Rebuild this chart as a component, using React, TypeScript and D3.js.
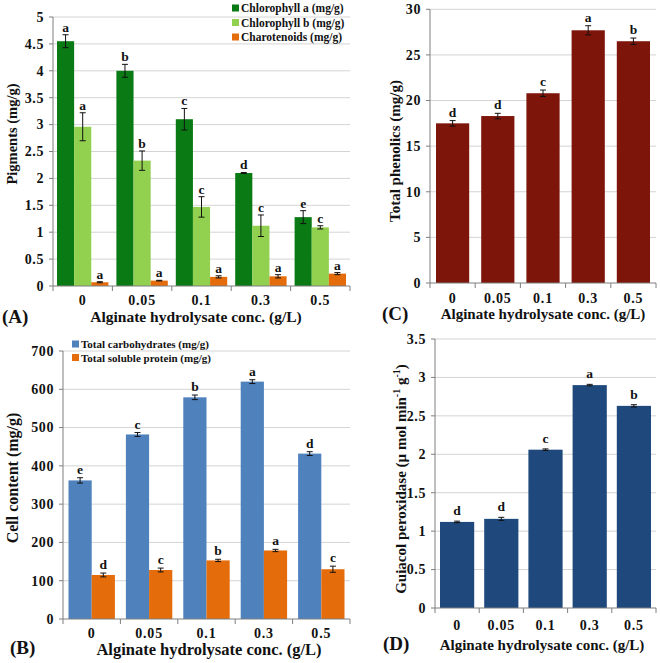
import React from "react";
import * as d3 from "d3";

const concs = ["0", "0.05", "0.1", "0.3", "0.5"];

// Panel A
const chlA = [4.55, 4.0, 3.1, 2.1, 1.28];
const chlAErr = [0.12, 0.12, 0.2, 0.01, 0.12];
const chlALet = ["a", "b", "c", "d", "e"];
const chlB = [2.96, 2.33, 1.47, 1.12, 1.09];
const chlBErr = [0.26, 0.18, 0.19, 0.2, 0.03];
const chlBLet = ["a", "b", "c", "c", "c"];
const car = [0.07, 0.1, 0.17, 0.18, 0.23];
const carErr = [0.01, 0.006, 0.02, 0.03, 0.02];
const carLet = ["a", "a", "a", "a", "a"];

// Panel B
const carb = [362, 482, 579, 620, 432];
const carbErr = [7, 5, 6, 5, 5];
const carbLet = ["e", "c", "b", "a", "d"];
const prot = [115, 128, 153, 179, 130];
const protErr = [5, 5, 3, 3, 8];
const protLet = ["d", "c", "b", "a", "c"];

// Panel C
const phen = [17.5, 18.3, 20.8, 27.7, 26.5];
const phenErr = [0.3, 0.3, 0.35, 0.5, 0.35];
const phenLet = ["d", "d", "c", "a", "b"];

// Panel D
const gpx = [1.12, 1.16, 2.06, 2.9, 2.63];
const gpxErr = [0.01, 0.02, 0.01, 0.01, 0.015];
const gpxLet = ["d", "d", "c", "a", "b"];

const FONT = "Liberation Serif, Times New Roman, DejaVu Serif, serif";

type Series = { name?: string; values: number[]; errs: number[]; letters: string[]; color: string };

type PanelProps = {
  x0: number; x1: number; yTop: number; yBot: number;
  yMax: number; yStep: number; pad: number; letGap: number;
  series: Series[];
  xLabelY: number;
  yLabel: React.ReactNode; yLabelX: number; yLabelY: number; yLabelSize: number;
  title: string; titleX: number; titleY: number; titleSize: number;
  tag: string; tagX: number; tagY: number;
  legend?: { x: number; y: number; dy: number; size: number };
};

function Panel(p: PanelProps) {
  const y = d3.scaleLinear().domain([0, p.yMax]).range([p.yBot, p.yTop]);
  const xb = d3.scaleBand<string>().domain(concs).range([p.x0, p.x1]).padding(0);
  const inner = d3
    .scaleBand<number>()
    .domain(p.series.map((_, i) => i))
    .range([p.pad, xb.bandwidth() - p.pad])
    .padding(0);
  const ticks = d3.range(0, p.yMax + p.yStep / 2, p.yStep);
  const fmt = (v: number) => d3.format("~g")(+v.toFixed(3));
  return (
    <g style={{ fontFamily: FONT, fontWeight: "bold" }}>
      {ticks.map((t) =>
        t > 0 ? (
          <line key={"g" + t} x1={p.x0} x2={p.x1} y1={y(t)} y2={y(t)} stroke="#d4d4d4" strokeWidth={1} />
        ) : null
      )}
      {p.series.map((s, si) =>
        concs.map((c, ci) => {
          const bx = (xb(c) as number) + (inner(si) as number);
          const bw = inner.bandwidth();
          const v = s.values[ci];
          const e = s.errs[ci];
          const cx = bx + bw / 2;
          return (
            <g key={si + "-" + ci}>
              <rect x={bx} y={y(v)} width={bw} height={y(0) - y(v)} fill={s.color} />
              <line x1={cx} x2={cx} y1={y(v + e)} y2={y(v - e)} stroke="#111" strokeWidth={1} />
              <line x1={cx - 3} x2={cx + 3} y1={y(v + e)} y2={y(v + e)} stroke="#111" strokeWidth={1} />
              <line x1={cx - 3} x2={cx + 3} y1={y(v - e)} y2={y(v - e)} stroke="#111" strokeWidth={1} />
              <text x={cx} y={y(v + e) - p.letGap} textAnchor="middle" fontSize={13.5} fill="#111">
                {s.letters[ci]}
              </text>
            </g>
          );
        })
      )}
      <line x1={p.x0} x2={p.x0} y1={p.yTop} y2={p.yBot} stroke="#7f7f7f" />
      <line x1={p.x0} x2={p.x1} y1={p.yBot} y2={p.yBot} stroke="#7f7f7f" />
      {ticks.map((t) => (
        <g key={"t" + t}>
          <line x1={p.x0 - 4} x2={p.x0} y1={y(t)} y2={y(t)} stroke="#7f7f7f" />
          <text x={p.x0 - 9} y={y(t) + 4.8} textAnchor="end" fontSize={14} letterSpacing={0.6} fill="#111">
            {fmt(t)}
          </text>
        </g>
      ))}
      {concs.map((c, i) => (
        <line key={"xt" + i} x1={xb(c) as number} x2={xb(c) as number} y1={p.yBot} y2={p.yBot + 5} stroke="#7f7f7f" />
      ))}
      <line x1={p.x1} x2={p.x1} y1={p.yBot} y2={p.yBot + 5} stroke="#7f7f7f" />
      {concs.map((c) => (
        <text key={"xl" + c} x={(xb(c) as number) + xb.bandwidth() / 2} y={p.xLabelY} textAnchor="middle" fontSize={14} letterSpacing={0.8} fill="#111">
          {c}
        </text>
      ))}
      <text
        transform={`translate(${p.yLabelX},${p.yLabelY}) rotate(-90)`}
        textAnchor="middle"
        dominantBaseline="central"
        fontSize={p.yLabelSize}
        fill="#111"
      >
        {p.yLabel}
      </text>
      <text x={p.titleX} y={p.titleY} textAnchor="middle" fontSize={p.titleSize} fill="#111">
        {p.title}
      </text>
      <text x={p.tagX} y={p.tagY} fontSize={19} fill="#111">
        {p.tag}
      </text>
      {p.legend &&
        p.series.map((s, i) => (
          <g key={"lg" + i}>
            <rect x={p.legend!.x} y={p.legend!.y + i * p.legend!.dy - 3.5} width={7} height={7} fill={s.color} />
            <text x={p.legend!.x + 9} y={p.legend!.y + i * p.legend!.dy + 4} fontSize={p.legend!.size} fill="#111">
              {s.name}
            </text>
          </g>
        ))}
    </g>
  );
}

export default function App() {
  const title = "Alginate hydrolysate conc. (g/L)";
  return (
    <svg width={660} height={663} style={{ position: "absolute", left: 0, top: 0, background: "#fff" }}>
      <rect width={660} height={663} fill="#fff" />
      <Panel
        x0={53} x1={350} yTop={17} yBot={286} yMax={5} yStep={0.5} pad={4} letGap={3}
        series={[
          { name: "Chlorophyll a (mg/g)", values: chlA, errs: chlAErr, letters: chlALet, color: "#0a7a14" },
          { name: "Chlorophyll b (mg/g)", values: chlB, errs: chlBErr, letters: chlBLet, color: "#92d050" },
          { name: "Charotenoids (mg/g)", values: car, errs: carErr, letters: carLet, color: "#e46c0a" },
        ]}
        xLabelY={305}
        yLabel="Pigments (mg/g)" yLabelX={12} yLabelY={134} yLabelSize={14.5}
        title={title} titleX={196} titleY={322} titleSize={15.5}
        tag="(A)" tagX={2} tagY={323}
        legend={{ x: 232, y: 8, dy: 14.5, size: 11.5 }}
      />
      <Panel
        x0={430} x1={656} yTop={9.3} yBot={283} yMax={30} yStep={5} pad={6} letGap={4}
        series={[{ values: phen, errs: phenErr, letters: phenLet, color: "#7d150a" }]}
        xLabelY={303}
        yLabel="Total phenolics (mg/g)" yLabelX={395} yLabelY={151} yLabelSize={15}
        title={title} titleX={543} titleY={319} titleSize={15}
        tag="(C)" tagX={382} tagY={320}
      />
      <Panel
        x0={63} x1={350} yTop={351} yBot={619} yMax={700} yStep={100} pad={5.5} letGap={4}
        series={[
          { name: "Total carbohydrates (mg/g)", values: carb, errs: carbErr, letters: carbLet, color: "#4f81bd" },
          { name: "Total soluble protein (mg/g)", values: prot, errs: protErr, letters: protLet, color: "#e46c0a" },
        ]}
        xLabelY={638}
        yLabel="Cell content (mg/g)" yLabelX={12} yLabelY={478} yLabelSize={16}
        title={title} titleX={209} titleY={655} titleSize={16.5}
        tag="(B)" tagX={10} tagY={654}
        legend={{ x: 72, y: 344, dy: 13.5, size: 11 }}
      />
      <Panel
        x0={435} x1={656} yTop={339} yBot={608} yMax={3.5} yStep={0.5} pad={5} letGap={6}
        series={[{ values: gpx, errs: gpxErr, letters: gpxLet, color: "#1f497d" }]}
        xLabelY={630}
        yLabel={
          <>
            Guiacol peroxidase (µ mol min
            <tspan dy={-5} fontSize={10}>-1</tspan>
            <tspan dy={5}> g</tspan>
            <tspan dy={-5} fontSize={10}>-1</tspan>
            <tspan dy={5}>)</tspan>
          </>
        }
        yLabelX={401} yLabelY={479} yLabelSize={15}
        title={title} titleX={542} titleY={650} titleSize={15}
        tag="(D)" tagX={383} tagY={650}
      />
    </svg>
  );
}
